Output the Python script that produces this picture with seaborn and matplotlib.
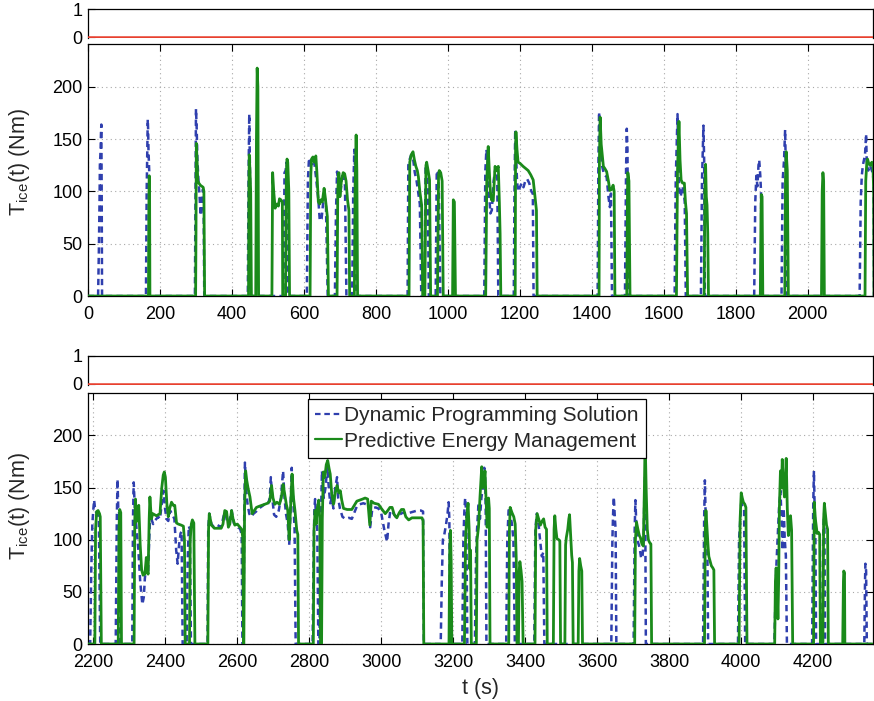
import matplotlib
matplotlib.use("Agg")
import matplotlib.pyplot as plt
import seaborn as sns

# ---- engine torque, dynamic programming reference (s, Nm) ----
dp_t_a = [0, 28, 30, 32, 33, 35, 36, 37, 38, 39,
          161, 163, 165, 166, 167, 168, 170, 171,
          297, 299, 300, 302, 304, 307, 310, 313, 316, 319, 321, 323,
          444, 446, 448, 449, 450, 452,
          543, 546, 549, 552, 556,
          608, 611, 614, 618, 622, 628, 634, 640, 644, 649, 653, 657, 661, 666,
          686, 689, 692, 695, 698, 702, 706, 710, 714, 718,
          734, 737, 740, 742, 744,
          888, 890, 893, 898, 903, 908, 913, 918, 922, 926,
          935, 938, 941, 944, 947, 966, 969, 972, 975, 979,
          1101, 1104, 1107, 1110, 1114, 1118, 1122, 1127, 1132, 1137, 1140,
          1183, 1185, 1187, 1189, 1192, 1195, 1200, 1205, 1210, 1215, 1220, 1226, 1232, 1236, 1238,
          1416, 1418, 1420, 1423, 1428, 1434, 1441, 1446, 1450, 1453, 1456,
          1492, 1495, 1497, 1499, 1501,
          1630, 1633, 1636, 1638, 1640, 1643, 1647, 1651, 1655, 1658, 1661,
          1703, 1706, 1710, 1712, 1714,
          1851, 1854, 1857, 1860, 1863, 1865, 1868, 1870, 1872,
          1927, 1930, 1934, 1937, 1939, 1941,
          2144, 2147, 2150, 2153, 2156, 2159, 2162, 2164, 2168, 2172, 2176, 2180, 2183, 2184]
dp_v_a = [0, 0, 40, 90, 125, 140, 155, 164, 100, 0,
          0, 100, 150, 169, 160, 140, 120, 0,
          0, 120, 179, 160, 130, 110, 95, 77, 90, 102, 100, 0,
          0, 110, 174, 150, 120, 0,
          0, 118, 120, 128, 0,
          0, 110, 132, 128, 126, 130, 112, 92, 72, 74, 88, 95, 90, 0,
          0, 80, 119, 110, 95, 100, 115, 118, 105, 0,
          0, 100, 140, 120, 0,
          0, 125, 130, 135, 132, 118, 110, 98, 88, 0,
          0, 125, 120, 105, 0, 0, 120, 118, 100, 0,
          0, 120, 140, 130, 100, 79, 82, 110, 122, 118, 0,
          0, 100, 159, 140, 110, 100, 104, 108, 104, 110, 112, 108, 100, 98, 0,
          0, 120, 176, 150, 125, 116, 114, 95, 85, 98, 0,
          0, 120, 160, 140, 0,
          0, 110, 150, 174, 140, 100, 95, 105, 100, 90, 0,
          0, 110, 163, 130, 0,
          0, 90, 115, 105, 125, 130, 115, 100, 0,
          0, 110, 130, 159, 120, 0,
          0, 90, 115, 125, 130, 135, 155, 125, 120, 125, 122, 118, 110, 0]

dp_t_b = [2185, 2191, 2194, 2197, 2200, 2202, 2205, 2210, 2215, 2219,
          2262, 2265, 2267, 2269, 2272, 2274,
          2308, 2310, 2312, 2315, 2320, 2325, 2330, 2336, 2340, 2343, 2347, 2352, 2357, 2361,
          2366, 2370, 2375, 2380, 2385, 2390, 2395, 2399, 2403, 2408, 2413, 2418, 2425, 2430,
          2434, 2438, 2442, 2445, 2448,
          2459, 2462, 2465, 2468, 2471,
          2517, 2519, 2522, 2528, 2535, 2545, 2555, 2562, 2567, 2572, 2578, 2584, 2590, 2597,
          2603, 2608, 2612, 2614,
          2617, 2619, 2621, 2624, 2628, 2633, 2638, 2645, 2652, 2660, 2668, 2676, 2684, 2690,
          2693, 2697, 2702, 2708, 2715, 2721, 2727, 2731, 2735, 2740, 2744, 2747, 2751, 2755,
          2759, 2762,
          2809, 2812, 2814, 2816, 2819, 2822, 2825,
          2828, 2831, 2835, 2840, 2845, 2850, 2854, 2858, 2862, 2867, 2872, 2877, 2880, 2885,
          2892, 2900, 2910, 2918, 2925, 2932, 2940, 2950, 2958, 2966, 2969, 2975, 2984, 2992,
          3000, 3008, 3016, 3020, 3025, 3032, 3040, 3050, 3060, 3070, 3080, 3090, 3100, 3110,
          3116, 3118,
          3165, 3168, 3171, 3175, 3180, 3184, 3187, 3189, 3191,
          3225, 3228, 3231, 3233, 3236, 3239,
          3260, 3263, 3266, 3270, 3274, 3278, 3282, 3286, 3288, 3290, 3292,
          3347, 3350, 3354, 3358, 3363, 3367, 3371,
          3425, 3428, 3432, 3436, 3441, 3446, 3450, 3453,
          3639, 3642, 3644, 3646, 3649, 3651, 3653,
          3701, 3704, 3706, 3709, 3713, 3718, 3722, 3726, 3729, 3731, 3733, 3735,
          3894, 3897, 3899, 3901, 3904, 3906, 3908,
          3991, 3994, 3996, 4000, 4004, 4008, 4011,
          4092, 4097, 4101, 4105, 4109, 4112, 4115, 4118, 4121, 4124, 4127,
          4197, 4200, 4202, 4204, 4206, 4208, 4225, 4228, 4231, 4233,
          4342, 4344, 4345, 4347, 4349, 4367]
dp_v_b = [0, 0, 70, 115, 130, 138, 128, 125, 122, 0,
          0, 120, 158, 130, 125, 0,
          0, 120, 155, 130, 110, 90, 60, 38, 45, 63, 75, 70, 118, 120,
          115, 118, 120, 122, 120, 135, 147, 130, 120, 118, 128, 125, 120, 90,
          77, 95, 106, 108, 0,
          0, 80, 113, 110, 0,
          0, 110, 125, 115, 112, 114, 112, 123, 126, 116, 118, 128, 116, 113,
          112, 110, 105, 0,
          0, 120, 174, 150, 135, 125, 122, 125, 127, 130, 132, 134, 133, 140,
          160, 140, 124, 122, 128, 140, 166, 140, 125, 115, 95, 120, 169, 140,
          110, 0,
          0, 90, 130, 139, 120, 110, 0,
          0, 100, 166, 140, 150, 170, 150, 135, 140, 130, 150, 160, 140, 130,
          122, 120, 121, 120, 126, 132, 134, 135, 134, 133, 112, 130, 131, 130,
          125, 110, 98, 115, 128, 126, 122, 124, 126, 125, 126, 127, 128, 128,
          127, 0,
          0, 60, 100, 105, 115, 125, 136, 120, 0,
          0, 100, 130, 140, 125, 0,
          0, 80, 110, 135, 120, 140, 150, 169, 165, 130, 0,
          0, 100, 131, 125, 115, 100, 0,
          0, 110, 125, 118, 100, 84, 88, 0,
          0, 100, 125, 141, 120, 110, 0,
          0, 110, 138, 110, 98, 92, 82, 85, 100, 150, 160, 0,
          0, 120, 157, 125, 100, 90, 0,
          0, 100, 112, 135, 132, 130, 0,
          0, 70, 100, 130, 147, 120, 90, 130, 100, 85, 0,
          0, 130, 166, 130, 110, 0, 0, 110, 128, 0,
          0, 60, 77, 70, 0, 0]

# ---- engine torque, predictive energy management (s, Nm) ----
pem_t_a = [0, 168, 169, 170, 171, 172,
           299, 300, 301, 303, 305, 308, 312, 316, 320, 322, 324,
           446, 447, 448, 450, 452, 454,
           466, 468, 470, 472, 474,
           511, 513, 516, 520, 525, 529, 532, 536, 540, 541,
           549, 551, 553, 555, 558, 560,
           617, 619, 621, 625, 629, 633, 636, 640, 644, 647, 651, 656, 659, 663, 665, 668,
           692, 694, 697, 700, 704, 709, 713, 717, 721, 725, 727,
           740, 742, 745, 747, 749,
           892, 894, 898, 903, 907, 911, 915, 918, 922, 927, 930,
           936, 939, 941, 945, 949, 952,
           971, 974, 976, 980, 984, 987,
           1013, 1015, 1018, 1021,
           1105, 1108, 1112, 1115, 1118, 1121, 1126, 1131, 1135, 1140, 1143, 1145, 1147,
           1187, 1188, 1189, 1192, 1195, 1200, 1209, 1216, 1223, 1230, 1237, 1242, 1246, 1248,
           1420, 1421, 1423, 1426, 1432, 1436, 1441, 1446, 1450, 1455, 1459, 1462, 1464,
           1497, 1499, 1500, 1503, 1506,
           1635, 1638, 1642, 1645, 1648, 1652, 1657, 1660, 1663, 1666,
           1712, 1714, 1716, 1718, 1720, 1722, 1724,
           1868, 1870, 1871, 1873, 1875,
           1936, 1938, 1940, 1943, 1946,
           2038, 2040, 2042, 2044, 2046,
           2159, 2161, 2164, 2166, 2170, 2174, 2178, 2181, 2183, 2184]
pem_v_a = [0, 0, 80, 115, 110, 0,
           0, 60, 146, 130, 110, 108, 106, 105, 104, 100, 0,
           0, 100, 135, 120, 100, 0,
           0, 150, 218, 200, 0,
           0, 118, 100, 84, 88, 86, 93, 92, 90, 0,
           0, 118, 131, 128, 100, 0,
           0, 115, 131, 133, 128, 134, 118, 90, 88, 92, 90, 103, 95, 82, 76, 0,
           0, 101, 118, 95, 110, 118, 117, 110, 92, 82, 0,
           0, 100, 154, 120, 0,
           0, 128, 135, 138, 130, 124, 120, 114, 100, 87, 0,
           0, 125, 128, 120, 111, 0,
           0, 115, 120, 118, 110, 0,
           0, 92, 90, 0,
           0, 110, 143, 120, 100, 92, 91, 124, 120, 124, 89, 60, 0,
           0, 140, 157, 140, 128, 127, 124, 122, 120, 116, 111, 95, 82, 0,
           0, 130, 171, 145, 124, 122, 119, 110, 101, 102, 106, 100, 0,
           0, 100, 118, 110, 0,
           0, 120, 167, 130, 111, 108, 108, 90, 79, 0,
           0, 100, 126, 95, 87, 60, 0,
           0, 80, 97, 95, 0,
           0, 110, 138, 120, 0,
           0, 100, 118, 110, 0,
           0, 110, 128, 131, 126, 125, 128, 125, 100, 0]

pem_t_b = [2185, 2204, 2206, 2209, 2213, 2217, 2219, 2222,
           2269, 2271, 2273, 2276, 2278,
           2313, 2315, 2317, 2319, 2322, 2326, 2330, 2334, 2338, 2343, 2347, 2350, 2352, 2355,
           2357, 2361, 2365, 2370, 2375, 2380, 2385, 2390, 2394, 2397, 2400, 2404, 2408, 2412,
           2417, 2422, 2426, 2431, 2436, 2444, 2450, 2453, 2455,
           2467, 2469, 2472, 2475, 2479, 2482,
           2518, 2520, 2522, 2528, 2536, 2547, 2555, 2560, 2565, 2570, 2575, 2579, 2584, 2588,
           2593, 2600, 2607, 2612, 2615, 2617,
           2618, 2620, 2623, 2626, 2630, 2635, 2641, 2647, 2653, 2660, 2668, 2676, 2684, 2690,
           2695, 2699, 2704, 2710, 2717, 2722, 2727, 2731, 2736, 2740, 2744, 2747, 2752, 2756,
           2760, 2765, 2768, 2770,
           2811, 2813, 2816, 2819, 2822, 2826, 2829, 2831,
           2834, 2836, 2839, 2843, 2847, 2851, 2855, 2858, 2862, 2867, 2872, 2877, 2882, 2886,
           2890, 2895, 2905, 2918, 2925, 2932, 2940, 2948, 2955, 2962, 2968, 2972, 2980, 2992,
           3000, 3011, 3018, 3024, 3030, 3036, 3043, 3050, 3056, 3062, 3068, 3076, 3085, 3094,
           3105, 3113, 3116, 3118,
           3188, 3190, 3192, 3194, 3196,
           3231, 3234, 3237, 3241, 3244, 3246, 3248, 3250,
           3264, 3266, 3270, 3274, 3279, 3282, 3285, 3288, 3291, 3294, 3298, 3300, 3302,
           3354, 3356, 3358, 3363, 3368, 3372, 3375, 3377,
           3381, 3383, 3385, 3388, 3391, 3394,
           3427, 3429, 3433, 3437, 3442, 3447, 3451, 3455, 3459, 3461,
           3478, 3480, 3482, 3485, 3488, 3493, 3496, 3498,
           3510, 3512, 3514, 3518, 3521, 3523, 3526, 3529, 3531, 3533,
           3547, 3549, 3551, 3554, 3557, 3559,
           3704, 3706, 3709, 3713, 3717, 3720, 3724, 3728, 3731, 3733, 3736, 3739, 3742, 3746,
           3749, 3751,
           3898, 3900, 3902, 3905, 3908, 3910, 3913, 3917, 3921, 3924, 3926,
           3994, 3997, 4000, 4003, 4006, 4010, 4013, 4016,
           4093, 4095, 4097, 4100, 4102, 4104, 4106, 4109, 4112, 4114, 4117, 4120, 4123, 4125,
           4128, 4131, 4134, 4137, 4140, 4143,
           4201, 4203, 4206, 4209, 4211, 4215, 4218, 4220,
           4227, 4229, 4231, 4234, 4237, 4240, 4242,
           4282, 4284, 4285, 4287, 4288, 4367]
pem_v_b = [0, 0, 110, 127, 128, 125, 122, 0,
           0, 110, 129, 126, 0,
           0, 120, 139, 117, 125, 133, 95, 71, 66, 67, 83, 70, 67, 120,
           141, 120, 125, 124, 123, 124, 125, 150, 162, 165, 160, 135, 122, 130,
           136, 133, 133, 116, 115, 114, 113, 100, 0,
           0, 100, 115, 119, 116, 0,
           0, 110, 125, 114, 111, 111, 111, 115, 128, 127, 112, 115, 128, 120,
           114, 115, 112, 110, 102, 0,
           0, 130, 166, 157, 149, 141, 125, 128, 131, 132, 133, 134, 135, 137,
           152, 140, 134, 136, 134, 140, 153, 145, 134, 128, 100, 125, 163, 140,
           128, 109, 105, 0,
           0, 110, 128, 115, 130, 138, 120, 0,
           0, 120, 165, 160, 172, 176, 168, 163, 145, 134, 145, 152, 145, 147,
           138, 130, 129, 129, 133, 137, 138, 139, 140, 139, 114, 137, 135, 134,
           130, 125, 128, 131, 131, 124, 121, 126, 129, 129, 122, 119, 121, 121,
           121, 121, 118, 0,
           0, 90, 109, 80, 0,
           0, 100, 120, 135, 110, 72, 90, 0,
           0, 100, 112, 140, 170, 150, 153, 166, 138, 112, 140, 130, 0,
           0, 110, 131, 126, 122, 115, 80, 0,
           0, 70, 79, 71, 60, 0,
           0, 110, 125, 120, 114, 118, 120, 112, 110, 0,
           0, 110, 123, 110, 101, 100, 99, 0,
           0, 95, 102, 110, 120, 124, 105, 85, 78, 0,
           0, 70, 82, 75, 70, 0,
           0, 100, 117, 110, 104, 102, 96, 94, 150, 198, 147, 110, 100, 97,
           96, 0,
           0, 110, 128, 110, 93, 84, 80, 75, 73, 71, 0,
           0, 120, 145, 140, 136, 134, 131, 0,
           0, 60, 73, 50, 24, 60, 130, 166, 150, 177, 155, 141, 160, 178,
           130, 104, 115, 123, 109, 0,
           0, 136, 120, 112, 106, 107, 105, 0,
           0, 120, 135, 125, 114, 110, 0,
           0, 60, 70, 68, 0, 0]

# ---- engine on/off switching indicator (all zero) ----
flag_t = [0, 4367]
flag_v = [0, 0]

series_names = ["Dynamic Programming Solution", "Predictive Energy Management"]
x_ticks_a = [0, 200, 400, 600, 800, 1000, 1200, 1400, 1600, 1800, 2000]
x_ticks_b = [2200, 2400, 2600, 2800, 3000, 3200, 3400, 3600, 3800, 4000, 4200]
y_ticks = [0, 50, 100, 150, 200]

sns.set_theme(style="white")
plt.rcParams["font.family"] = ["Liberation Sans", "DejaVu Sans"]
plt.rcParams["mathtext.fontset"] = "custom"
plt.rcParams["mathtext.rm"] = "Liberation Sans"
plt.rcParams["mathtext.default"] = "regular"

BLUE = "#2f3fae"
GREEN = "#1a8a1a"
RED = "#e8402f"
TICK_FS = 13
LABEL_FS = 15.5
LEGEND_FS = 15

fig = plt.figure(figsize=(8.74, 7.01), dpi=100)
left, width = 0.1007, 0.8985
ax_flag_a = fig.add_axes([left, 0.9451, width, 0.0414])
ax_a = fig.add_axes([left, 0.5777, width, 0.3595])
ax_flag_b = fig.add_axes([left, 0.4508, width, 0.0414])
ax_b = fig.add_axes([left, 0.0813, width, 0.3585])


def style_axes(ax):
    for s in ax.spines.values():
        s.set_color("black")
        s.set_linewidth(0.9)
    ax.tick_params(direction="in", length=5, width=0.8, color="black",
                   labelsize=TICK_FS, labelcolor="black",
                   top=True, right=True, bottom=True, left=True)
    ax.tick_params(axis="y", pad=4)
    ax.tick_params(axis="x", pad=7)


def draw_flag(ax, xlim):
    sns.lineplot(x=flag_t, y=flag_v, ax=ax, color=RED, linewidth=1.8,
                 estimator=None, sort=False, zorder=5)
    ax.set_xlim(*xlim)
    ax.set_ylim(-0.05, 1)
    ax.set_yticks([0, 1])
    ax.set_xticks([])
    ax.set_xlabel("")
    ax.set_ylabel("")
    style_axes(ax)
    ax.spines["bottom"].set_visible(False)
    ax.tick_params(top=False, bottom=False, right=False)


def draw_torque(ax, dp_t, dp_v, pem_t, pem_v, xlim, xticks, label_y):
    sns.lineplot(x=dp_t, y=dp_v, ax=ax, color=BLUE, linewidth=1.8,
                 linestyle=(0, (2.5, 1.7)), estimator=None, sort=False,
                 label=series_names[0], zorder=3)
    sns.lineplot(x=pem_t, y=pem_v, ax=ax, color=GREEN, linewidth=2.0,
                 estimator=None, sort=False, label=series_names[1], zorder=4)
    ax.set_xlim(*xlim)
    ax.set_ylim(0, 241)
    ax.set_xticks(xticks)
    ax.set_yticks(y_ticks)
    ax.grid(True, color="#a8a8a8", linestyle=(0, (1, 3)), linewidth=0.8)
    ax.set_xlabel("")
    ax.set_ylabel("T$_{ice}$(t) (Nm)", fontsize=LABEL_FS)
    ax.yaxis.set_label_coords(-0.071, label_y)
    style_axes(ax)


draw_flag(ax_flag_a, (0, 2182))
draw_torque(ax_a, dp_t_a, dp_v_a, pem_t_a, pem_v_a, (0, 2182), x_ticks_a, 0.532)
ax_a.get_legend().remove()

draw_flag(ax_flag_b, (2185, 4367))
draw_torque(ax_b, dp_t_b, dp_v_b, pem_t_b, pem_v_b, (2185, 4367), x_ticks_b, 0.549)
ax_b.set_xlabel("t (s)", fontsize=LABEL_FS, labelpad=5)

leg = ax_b.legend(loc="upper left", bbox_to_anchor=(0.28, 0.975), borderaxespad=0,
                  fontsize=LEGEND_FS, frameon=True, fancybox=False, framealpha=1,
                  edgecolor="black", handlelength=1.3, handletextpad=0.1,
                  borderpad=0.35, labelspacing=0.3)
leg.get_frame().set_linewidth(0.9)
for h in leg.get_lines():
    h.set_linewidth(1.6)

fig.savefig("out.png", dpi=100)
